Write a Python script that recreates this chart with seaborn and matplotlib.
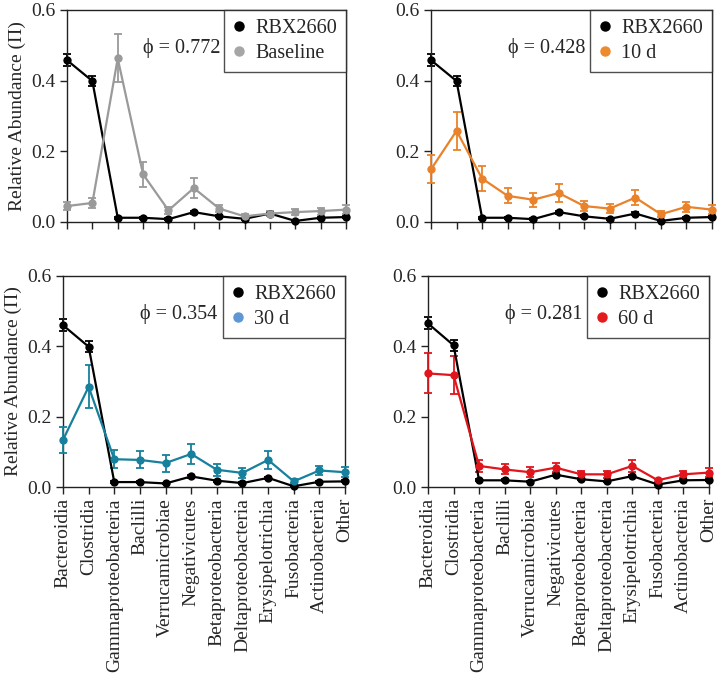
import matplotlib
matplotlib.use("Agg")
import matplotlib.pyplot as plt
from matplotlib.lines import Line2D
from matplotlib import font_manager
import numpy as np
import pandas as pd
import seaborn as sns

# taxonomic classes on the x axis
classes = ['Bacteroidia', 'Clostridia', 'Gammaproteobacteria', 'Baclilli',
           'Verrucamicrobiae', 'Negativicutes', 'Betaproteobacteria',
           'Deltaproteobacteria', 'Erysipelotrichia', 'Fusobacteria',
           'Actinobacteria', 'Other']

# RBX2660 reference (same product)
rbx_a = [0.458, 0.399, 0.012, 0.012, 0.008, 0.028, 0.016, 0.009, 0.024, 0.003, 0.012, 0.014]
rbx_b = [0.458, 0.399, 0.012, 0.012, 0.008, 0.028, 0.016, 0.009, 0.024, 0.003, 0.012, 0.014]
rbx_c = [0.460, 0.399, 0.014, 0.014, 0.010, 0.030, 0.018, 0.011, 0.026, 0.002, 0.015, 0.016]
rbx_d = [0.465, 0.403, 0.019, 0.019, 0.015, 0.035, 0.022, 0.016, 0.031, 0.007, 0.019, 0.020]
rbx_err = [0.017, 0.015, 0.003, 0.003, 0.002, 0.004, 0.003, 0.002, 0.003, 0.001, 0.003, 0.003]

# patient time points
baseline = [0.045, 0.054, 0.463, 0.135, 0.033, 0.096, 0.038, 0.016, 0.024, 0.028, 0.031, 0.035]
baseline_err = [0.012, 0.015, 0.068, 0.036, 0.010, 0.028, 0.010, 0.006, 0.006, 0.008, 0.010, 0.012]
d10 = [0.149, 0.258, 0.123, 0.074, 0.063, 0.082, 0.045, 0.038, 0.069, 0.022, 0.043, 0.035]
d10_err = [0.040, 0.054, 0.035, 0.021, 0.020, 0.025, 0.015, 0.013, 0.021, 0.008, 0.014, 0.013]
d30 = [0.134, 0.285, 0.079, 0.077, 0.068, 0.094, 0.049, 0.040, 0.077, 0.016, 0.047, 0.042]
d30_err = [0.038, 0.061, 0.026, 0.024, 0.024, 0.028, 0.017, 0.014, 0.026, 0.006, 0.014, 0.014]
d60 = [0.323, 0.318, 0.060, 0.050, 0.042, 0.055, 0.036, 0.036, 0.060, 0.019, 0.036, 0.041]
d60_err = [0.057, 0.054, 0.017, 0.014, 0.014, 0.013, 0.010, 0.010, 0.017, 0.005, 0.010, 0.012]

labels = ['Baseline', '10 d', '30 d', '60 d']
phis = ['0.772', '0.428', '0.354', '0.281']
line_colors = ['#9a9a9a', '#e9822a', '#17809c', '#e0161c']
legend_colors = ['#a6a6a6', '#ec8a2e', '#5d97d5', '#e41a1c']

sns.set_style("ticks")
# pick an installed serif face, Times-like if possible
names = {f.name for f in font_manager.fontManager.ttflist}
serif = [n for n in ['Liberation Serif', 'DejaVu Serif'] if n in names]
plt.rcParams['font.family'] = 'serif'
plt.rcParams['font.serif'] = serif + ['DejaVu Serif']
plt.rcParams['mathtext.fontset'] = 'dejavuserif'

fig = plt.figure(figsize=(7.2, 6.74), dpi=100)
W, H = 720.0, 674.0
boxes = [(67, 10, 346, 222), (431, 10, 712, 222),
         (63, 276, 345, 487), (428, 276, 709, 487)]

panels = [(rbx_a, baseline, baseline_err), (rbx_b, d10, d10_err),
          (rbx_c, d30, d30_err), (rbx_d, d60, d60_err)]
x = np.arange(len(classes))

for i, ((x0, y0, x1, y1), (rbx, vals, errs)) in enumerate(zip(boxes, panels)):
    ax = fig.add_axes([x0 / W, 1 - y1 / H, (x1 - x0) / W, (y1 - y0) / H])
    df = pd.DataFrame({'x': np.concatenate([x, x]),
                       'y': rbx + vals,
                       'group': ['RBX2660'] * len(x) + [labels[i]] * len(x)})
    ax.errorbar(x, rbx, yerr=rbx_err, fmt='none', ecolor='black',
                elinewidth=1.3, capsize=3, capthick=1.3, zorder=2)
    ax.errorbar(x, vals, yerr=errs, fmt='none', ecolor=line_colors[i],
                elinewidth=1.3, capsize=3, capthick=1.3, zorder=3)
    sns.lineplot(data=df, x='x', y='y', hue='group', marker='o',
                 palette={'RBX2660': 'black', labels[i]: line_colors[i]},
                 markersize=6, markeredgewidth=0, linewidth=1.6,
                 legend=False, ax=ax, zorder=4)
    ax.set_xlim(0, 11)
    ax.set_ylim(0, 0.6)
    ax.set_yticks([0, 0.2, 0.4, 0.6])
    ax.set_yticklabels(['0.0', '0.2', '0.4', '0.6'], fontsize=14)
    ax.set_xticks(x)
    if i >= 2:
        ax.set_xticklabels(classes, rotation=90, fontsize=14)
    else:
        ax.set_xticklabels([])
    ax.set_xlabel('')
    if i % 2 == 0:
        ax.set_ylabel('Relative Abundance (Π)', fontsize=14, labelpad=4)
    else:
        ax.set_ylabel('')
    for s in ax.spines.values():
        s.set_visible(True)
        s.set_linewidth(1.0)
        s.set_color('#222222')
    ax.tick_params(direction='out', length=5, width=1.0, color='#222222', pad=3)
    for c in ax.get_children():
        if hasattr(c, 'set_clip_on'):
            c.set_clip_on(False)

    ax.text(0.41, 0.82, 'ϕ = ' + phis[i], transform=ax.transAxes,
            fontsize=14.5, ha='center', va='center')

    handles = [Line2D([], [], marker='o', linestyle='none', color='black',
                      markersize=6.5, label='RBX2660'),
               Line2D([], [], marker='o', linestyle='none', color=legend_colors[i],
                      markersize=6.5, label=labels[i])]
    leg = ax.legend(handles=handles, loc='upper right', fontsize=14.5,
                    frameon=True, fancybox=False, borderaxespad=0,
                    handlelength=0.6, handletextpad=0.5, borderpad=0.45,
                    labelspacing=0.3)
    leg.get_frame().set_edgecolor('#222222')
    leg.get_frame().set_linewidth(1.0)

fig.savefig('out.png', dpi=100)
